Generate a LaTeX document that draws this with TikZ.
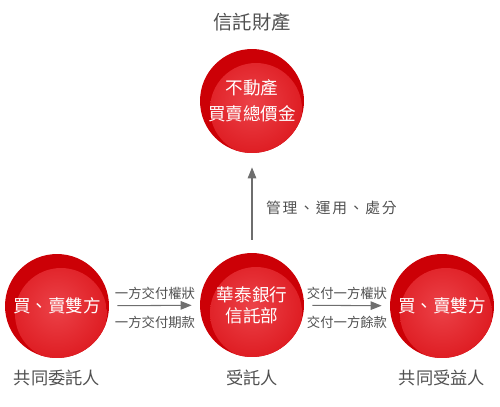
\documentclass[tikz,border=0pt]{standalone}
\usepackage{fontspec}
\newfontfamily\cjk{Noto Sans CJK TC}
\definecolor{ballrim}{RGB}{204,0,6}
\definecolor{ballmid}{RGB}{222,28,34}
\definecolor{balllight}{RGB}{236,66,72}
\definecolor{labelgray}{RGB}{80,80,80}
\definecolor{arrowgray}{RGB}{110,110,110}
\usetikzlibrary{arrows.meta,positioning}

\begin{document}
\begin{tikzpicture}[
  x=0.02cm, y=-0.02cm,
  every node/.style={font=\cjk},
  ball/.style={circle,minimum size=2.08cm,inner sep=0pt,fill=ballrim,text=white,
               align=center,font=\cjk\fontsize{10}{12}\selectfont,
               path picture={\shade[inner color=balllight,outer color=ballmid]
                 ([shift={(0.08cm,-0.16cm)}]path picture bounding box.center) circle (0.92cm);}},
  role/.style={text=labelgray,font=\cjk\fontsize{9.8}{12}\selectfont},
  deal/.style={text=labelgray,font=\cjk\fontsize{7.6}{9}\selectfont},
  flow/.style={draw=arrowgray,line width=0.6pt,-{Triangle[length=0.22cm,width=0.17cm]}},
]
  \useasboundingbox (0,0) rectangle (500,406);

  % Trust property
  \node[text=labelgray,font=\cjk\fontsize{11}{13}\selectfont] (title) at (252,22) {信託財產};
  \node[ball] (asset) at (252,101) {不動產\\[3pt]買賣總價金};

  % Three parties
  \node[ball] (settlor) at (57,306) {買、賣雙方};
  \node[ball] (trustee) at (252,305) {華泰銀行\\信託部};
  \node[ball] (benef) at (442,306) {買、賣雙方};

  \node[role] (settlorlbl) at (57,378) {共同委託人};
  \node[role] (trusteelbl) at (252,378) {受託人};
  \node[role] (beneflbl) at (442,378) {共同受益人};

  % Arrows
  \draw[flow,shorten <=0.26cm,shorten >=0.28cm] (trustee) -- (asset);
  \draw[flow,shorten <=0.16cm,shorten >=0.16cm] (settlor) -- (trustee);
  \draw[flow,shorten <=0.16cm,shorten >=0.16cm] (trustee) -- (benef);

  \node[text=labelgray,font=\cjk\fontsize{8.4}{10}\selectfont\addfontfeature{LetterSpace=12},anchor=west]
    (manage) at (260,208) {管理、運用、處分};
  \node[deal] (pay1) at (155,293) {一方交付權狀};
  \node[deal] (pay2) at (155,322) {一方交付期款};
  \node[deal] (pay3) at (347,293) {交付一方權狀};
  \node[deal] (pay4) at (347,322) {交付一方餘款};
\end{tikzpicture}
\end{document}
